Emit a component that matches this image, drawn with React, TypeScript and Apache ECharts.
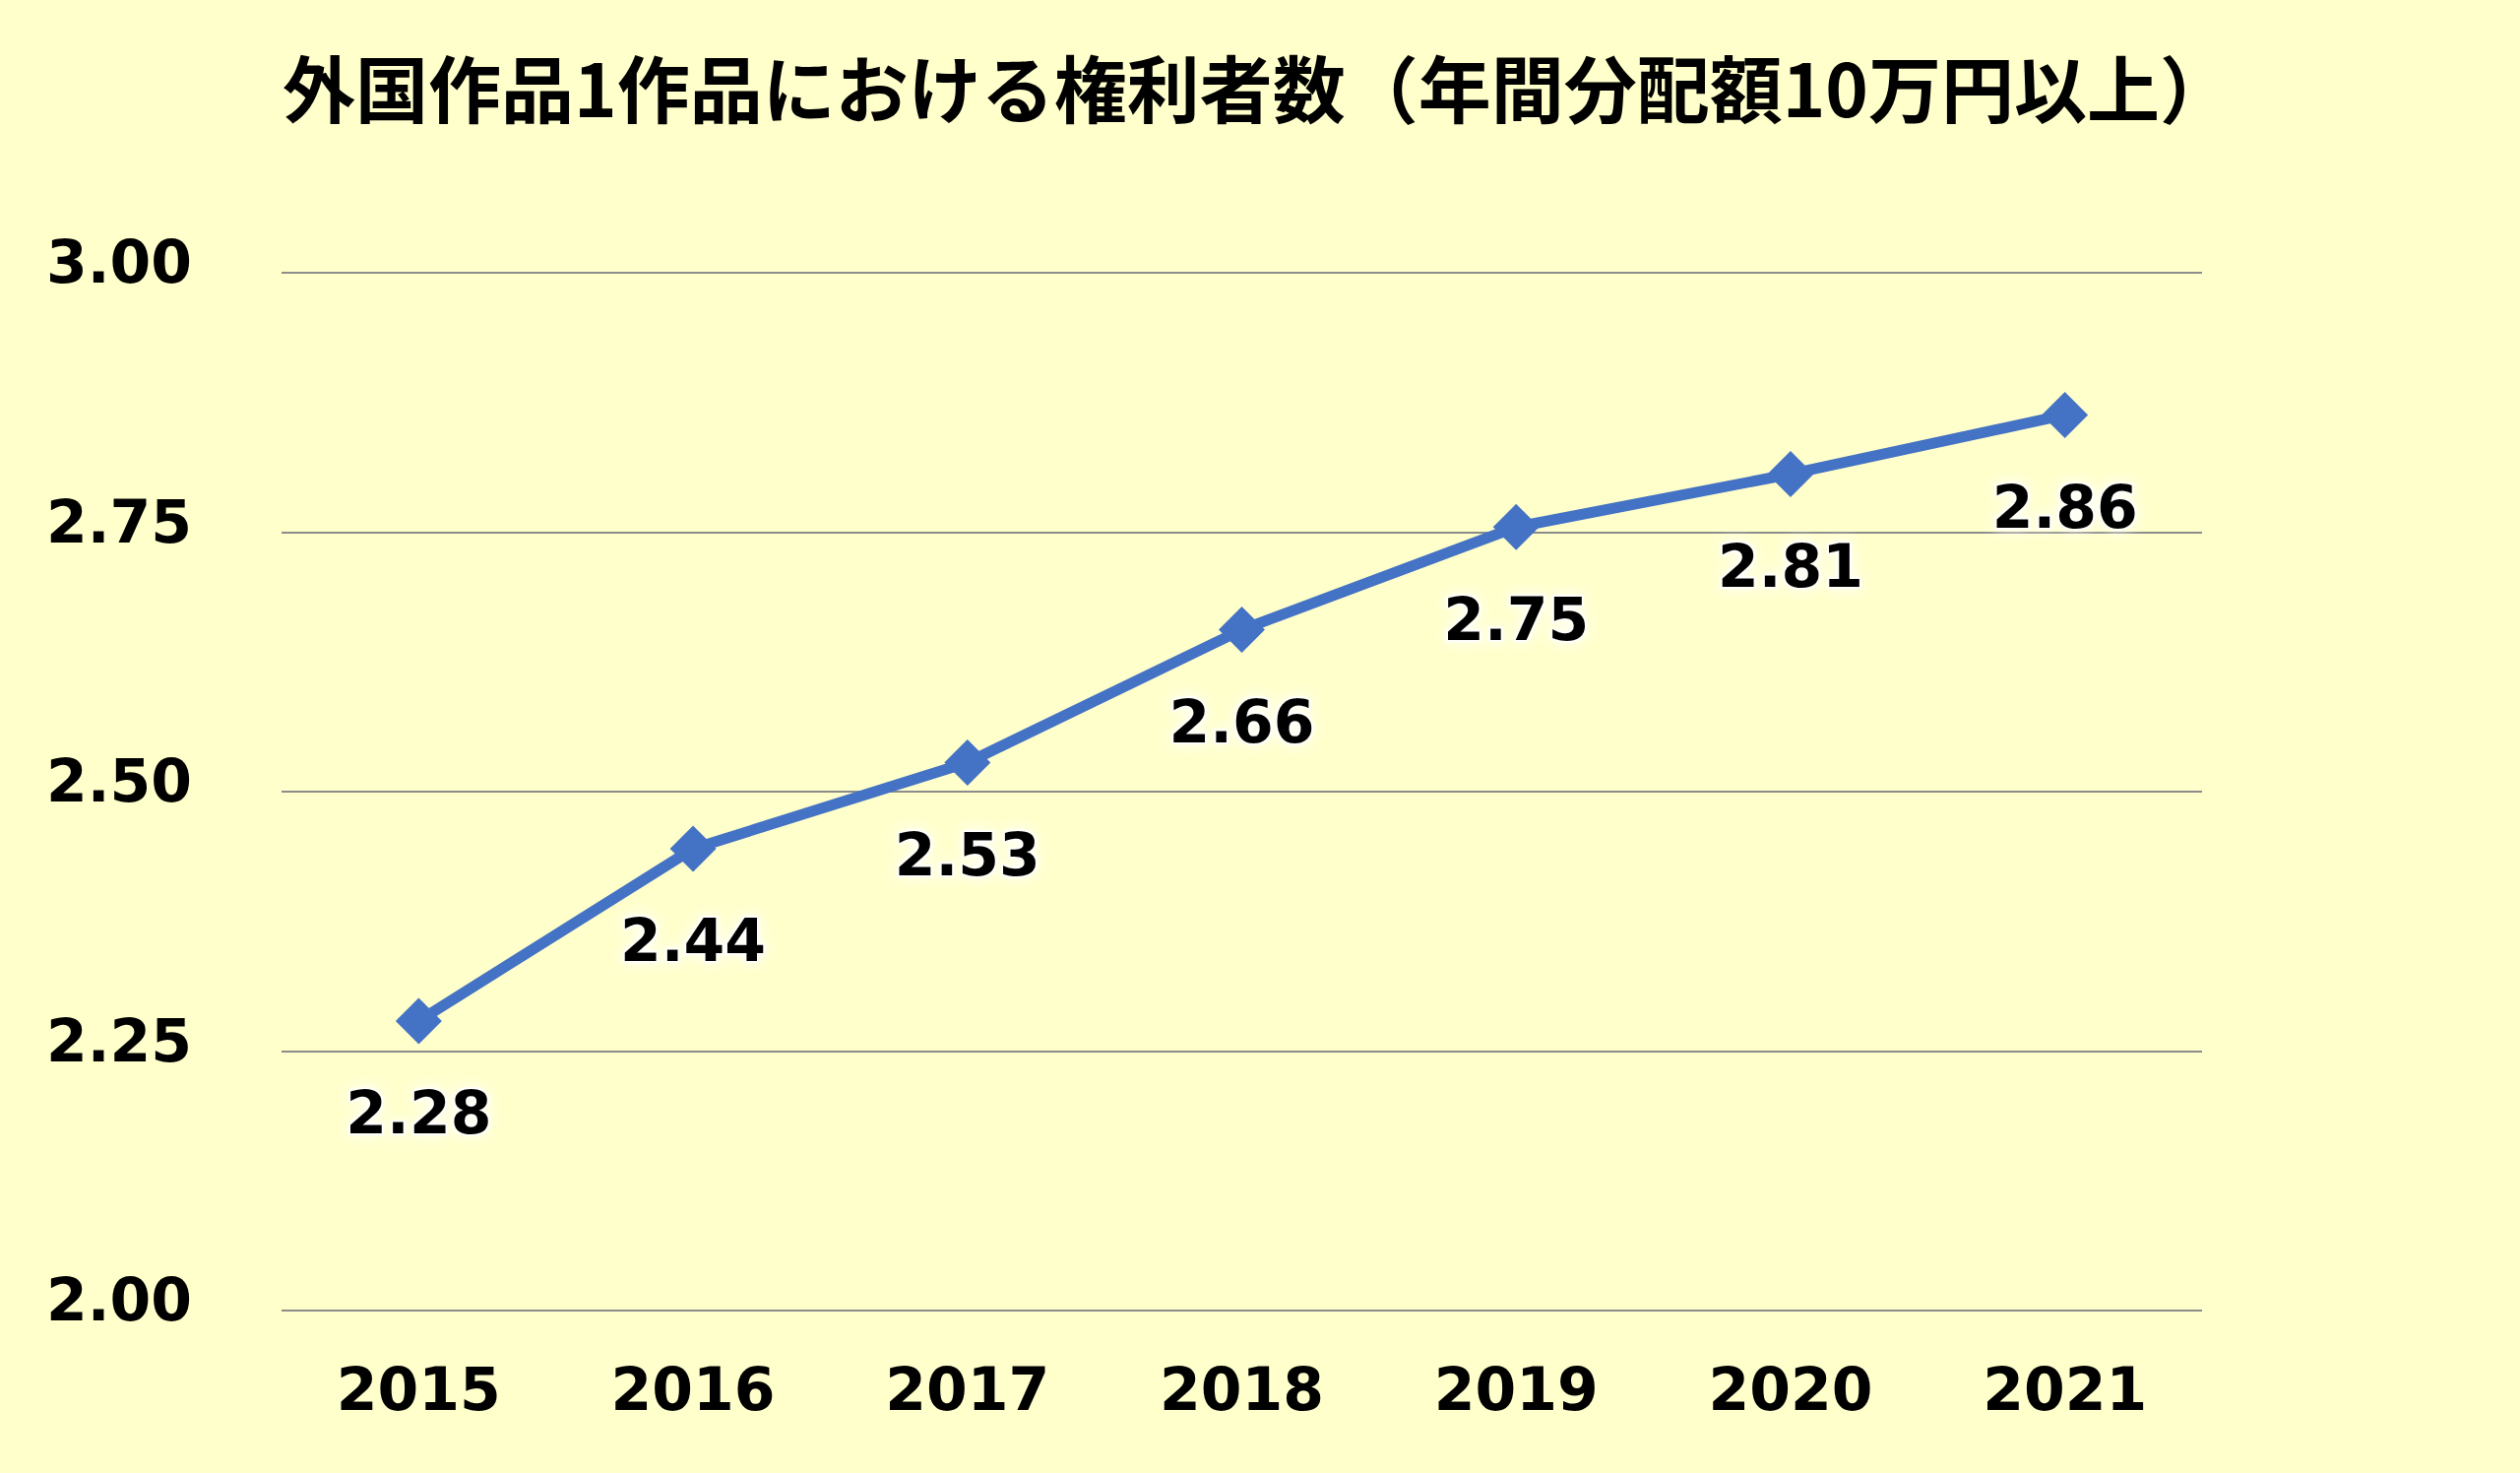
import React, { useEffect, useRef } from "react";
import * as echarts from "echarts";

const titleText = "外国作品1作品における権利者数（年間分配額10万円以上）";
const years = ["2015", "2016", "2017", "2018", "2019", "2020", "2021"];
const values = [2.279, 2.445, 2.528, 2.656, 2.755, 2.806, 2.863];
const valueLabels = ["2.28", "2.44", "2.53", "2.66", "2.75", "2.81", "2.86"];

export default function App() {
  const ref = useRef<HTMLDivElement>(null);
  useEffect(() => {
    const chart = echarts.init(ref.current!, null, { renderer: "svg" });
    const numFont = "'DejaVu Sans', Verdana, sans-serif";
    chart.setOption({
      animation: false,
      backgroundColor: "#FFFFCC",
      title: {
        text: titleText,
        left: 282,
        top: 44,
        textStyle: {
          fontFamily: "'Noto Sans CJK JP', sans-serif",
          fontWeight: "bold",
          fontSize: 74,
          color: "#000",
        },
      },
      grid: { left: 286, right: 323, top: 277, bottom: 165, containLabel: false },
      xAxis: {
        type: "category",
        data: years,
        boundaryGap: true,
        axisLine: { show: false },
        axisTick: { show: false },
        axisLabel: {
          margin: 50,
          fontFamily: numFont,
          fontWeight: "bold",
          fontSize: 60,
          color: "#000",
        },
      },
      yAxis: {
        type: "value",
        min: 2,
        max: 3,
        interval: 0.25,
        axisLine: { show: false },
        axisTick: { show: false },
        splitLine: { lineStyle: { color: "#8c8c8c", width: 2 } },
        axisLabel: {
          margin: 91,
          fontFamily: numFont,
          fontWeight: "bold",
          fontSize: 60,
          color: "#000",
          verticalAlign: "bottom",
          lineHeight: 22,
          formatter: (v: number) => v.toFixed(2),
        },
      },
      series: [
        {
          type: "line",
          data: values,
          symbol: "diamond",
          symbolSize: 47,
          lineStyle: { color: "#4472C4", width: 11 },
          itemStyle: { color: "#4472C4" },
          label: {
            show: true,
            position: "bottom",
            distance: 40,
            fontFamily: numFont,
            fontWeight: "bold",
            fontSize: 60,
            color: "#000",
            textBorderColor: "rgba(255,255,255,0.85)",
            textBorderWidth: 4,
            textShadowColor: "#ffffff",
            textShadowBlur: 14,
            formatter: (p: any) => valueLabels[p.dataIndex],
          },
        },
      ],
    });
    return () => chart.dispose();
  }, []);
  return (
    <div
      ref={ref}
      style={{ position: "fixed", left: 0, top: 0, width: 2560, height: 1496 }}
    />
  );
}
